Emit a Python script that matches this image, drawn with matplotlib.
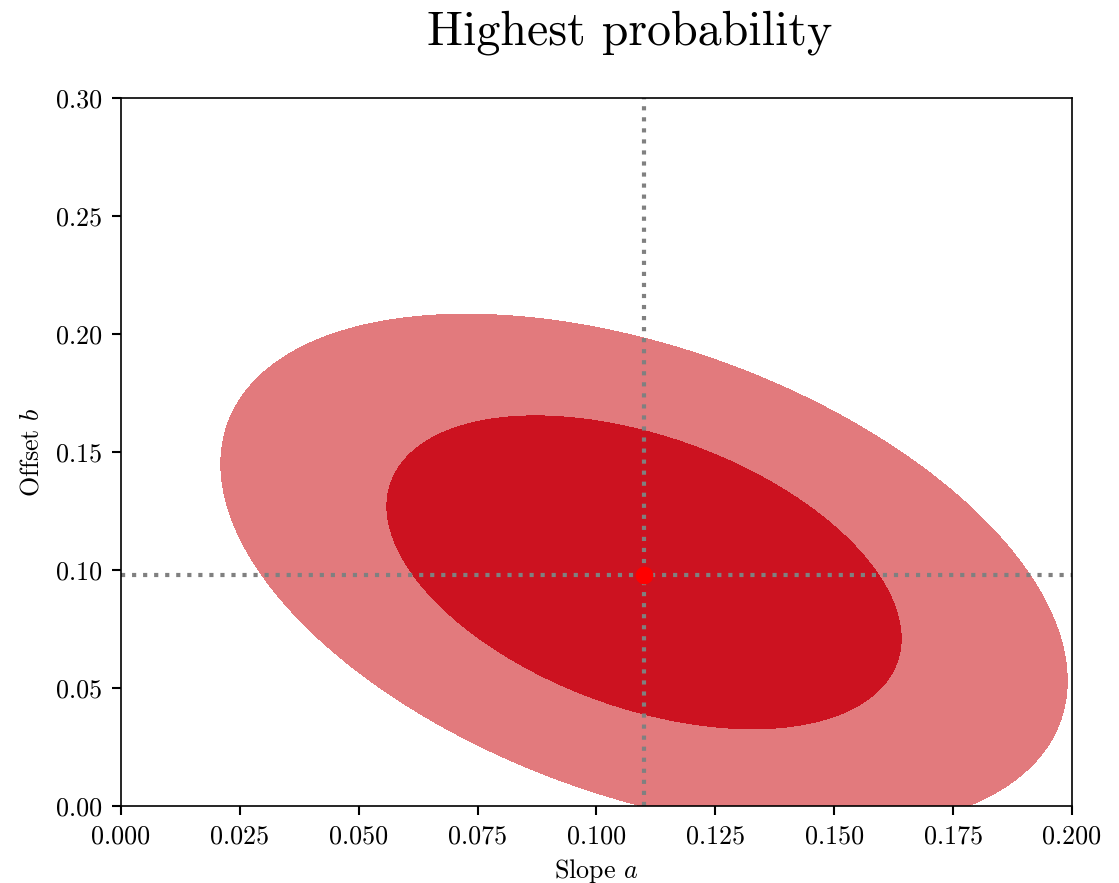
import matplotlib
matplotlib.use('Agg')
import matplotlib.pyplot as plt
import numpy as np

plt.rcParams['font.family'] = 'serif'
plt.rcParams['font.serif'] = ['cmr10']
plt.rcParams['mathtext.fontset'] = 'cm'
plt.rcParams['axes.formatter.use_mathtext'] = True

# best fit and gaussian approximation of the posterior
best_a, best_b = 0.110, 0.098
mean_a, mean_b = 0.110, 0.099
sigma_a, sigma_b = 0.0358, 0.0440
rho = -0.42
# delta chi^2 levels for 1 and 2 sigma in 2D
levels = [0.0, 2.30, 6.18]
colors = ['#cc1220', '#e27a7d']

xticks = [0.000, 0.025, 0.050, 0.075, 0.100, 0.125, 0.150, 0.175, 0.200]
yticks = [0.00, 0.05, 0.10, 0.15, 0.20, 0.25, 0.30]

fig = plt.figure(figsize=(7.46, 5.887), dpi=150)
ax = fig.add_axes([0.1081, 0.0872, 0.8499, 0.8018])

a = np.linspace(-0.05, 0.25, 600)
b = np.linspace(-0.1, 0.35, 600)
A, B = np.meshgrid(a, b)
za = (A - mean_a) / sigma_a
zb = (B - mean_b) / sigma_b
chi2 = (za**2 - 2*rho*za*zb + zb**2) / (1 - rho**2)
ax.contourf(A, B, chi2, levels=levels, colors=colors)

ax.axvline(best_a, color='gray', ls=':', lw=2)
ax.axhline(best_b, color='gray', ls=':', lw=2)
ax.plot(best_a, best_b, 'o', color='red', ms=7.5)

ax.set_xlim(0, 0.2)
ax.set_ylim(0, 0.3)
ax.set_xticks(xticks)
ax.set_yticks(yticks)
ax.set_xticklabels(['%.3f' % t for t in xticks])
ax.set_yticklabels(['%.2f' % t for t in yticks])
ax.tick_params(labelsize=12.5, width=1, length=4.5, pad=4.5)
ax.set_xlabel('Slope $a$', fontsize=12.5, labelpad=4)
ax.set_ylabel('Offset $b$', fontsize=12.5, labelpad=6)

fig.text(0.563, 0.963, 'Highest probability', fontsize=23, ha='center', va='center')

plt.savefig('out.png', dpi=150)
